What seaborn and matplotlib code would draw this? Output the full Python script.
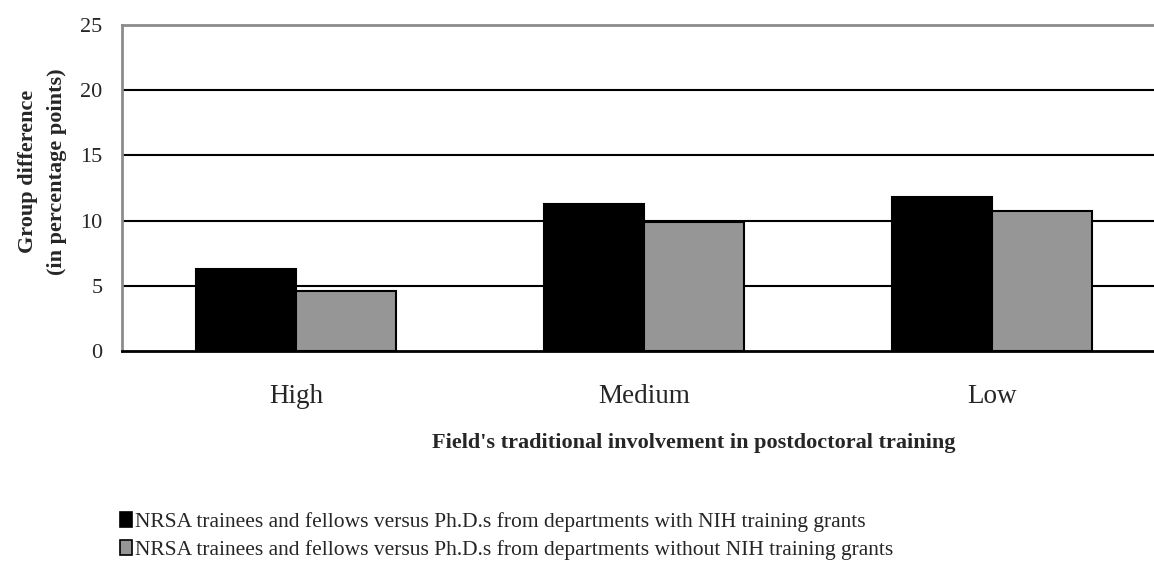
import numpy as np
import pandas as pd
import matplotlib
matplotlib.use("Agg")
import matplotlib.pyplot as plt
import seaborn as sns
from matplotlib.patches import Patch

categories = ["High", "Medium", "Low"]
series_names = [
    "NRSA trainees and fellows versus Ph.D.s from departments with NIH training grants",
    "NRSA trainees and fellows versus Ph.D.s from departments without NIH training grants",
]
with_grants = [6.3, 11.3, 11.8]
without_grants = [4.6, 9.9, 10.7]
colors = ["#000000", "#969696"]
yticks = [0, 5, 10, 15, 20, 25]

df = pd.DataFrame({
    "field": categories * 2,
    "group": [series_names[0]] * 3 + [series_names[1]] * 3,
    "diff": with_grants + without_grants,
})

sns.set_style("white")
plt.rcParams["font.family"] = ["Liberation Serif", "DejaVu Serif"]

fig = plt.figure(figsize=(11.54, 5.68), dpi=100)
ax = fig.add_axes([0.1057, 0.382, 0.9047, 0.574])

sns.barplot(data=df, x="field", y="diff", hue="group", order=categories,
            hue_order=series_names, palette=colors, width=0.575,
            edgecolor="black", linewidth=1.5, ax=ax, legend=False, zorder=3)

ax.set_ylim(0, 25)
ax.set_yticks(yticks)
ax.set_xlim(-0.5, 2.5)
for y in yticks[1:-1]:
    ax.axhline(y, color="black", linewidth=1.5, zorder=1)

for side in ["top", "left"]:
    ax.spines[side].set_color("#8c8c8c")
    ax.spines[side].set_linewidth(2)
ax.spines["bottom"].set_color("black")
ax.spines["bottom"].set_linewidth(2)
ax.spines["bottom"].set_zorder(4)
ax.spines["right"].set_visible(False)

ax.tick_params(axis="y", length=0, pad=14, labelsize=16)
ax.tick_params(axis="x", length=0, pad=24, labelsize=19.5)
ax.set_xlabel("Field's traditional involvement in postdoctoral training",
              fontsize=16, fontweight="bold")
ax.xaxis.set_label_coords(0.548, -0.252)
ax.set_ylabel("Group difference\n(in percentage points)",
              fontsize=16, fontweight="bold", linespacing=1.6)
ax.yaxis.set_label_coords(-0.053, 0.55)

handles = [Patch(facecolor=c, edgecolor="black", linewidth=1.2) for c in colors]
fig.legend(handles, series_names, loc="lower left", bbox_to_anchor=(0.087, -0.02),
           frameon=False, fontsize=15.5, handlelength=0.55, handleheight=0.75,
           handletextpad=0.15, labelspacing=0.35)

fig.savefig("out.png", dpi=100)
